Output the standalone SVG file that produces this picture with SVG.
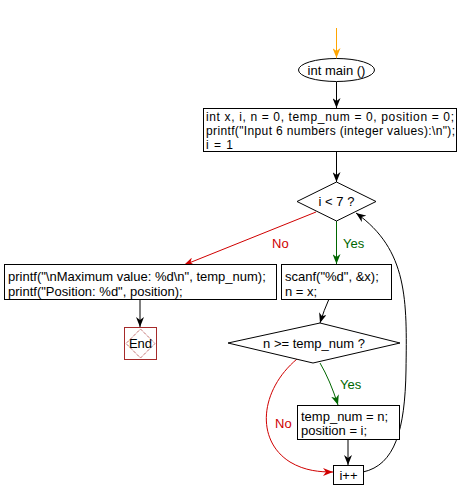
<svg xmlns="http://www.w3.org/2000/svg" width="470" height="500" viewBox="0 0 470 500">
<style>
text{font-family:"Liberation Sans",Arial,sans-serif;font-size:13px;fill:#000}
.s{font-size:12px}
.box{fill:#fff;stroke:#000;stroke-width:1}
.c{fill:none;stroke:#000;stroke-width:1}
.r{stroke:#d00000}
.g{stroke:#006600}
.o{stroke:#ffa500}
.lr{fill:#d00000}
.lg{fill:#006600}
</style>
<defs>
<marker id="ab" viewBox="0 0 10 8" refX="10" refY="4" markerWidth="10" markerHeight="8" markerUnits="userSpaceOnUse" orient="auto"><path d="M0,0 L10,4 L0,8 L3,4 z" fill="#000"/></marker>
<marker id="ar" viewBox="0 0 10 8" refX="10" refY="4" markerWidth="10" markerHeight="8" markerUnits="userSpaceOnUse" orient="auto"><path d="M0,0 L10,4 L0,8 L3,4 z" fill="#d00000"/></marker>
<marker id="ag" viewBox="0 0 10 8" refX="10" refY="4" markerWidth="10" markerHeight="8" markerUnits="userSpaceOnUse" orient="auto"><path d="M0,0 L10,4 L0,8 L3,4 z" fill="#006600"/></marker>
<marker id="ao" viewBox="0 0 10 8" refX="10" refY="4" markerWidth="10" markerHeight="8" markerUnits="userSpaceOnUse" orient="auto"><path d="M0,0 L10,4 L0,8 L3,4 z" fill="#ffa500"/></marker>
</defs>
<g id="connectors">
<path class="c o" d="M336.5,28 L336.5,58" marker-end="url(#ao)"/>
<path class="c" d="M336.5,82 L336.5,108" marker-end="url(#ab)"/>
<path class="c" d="M336.5,151 L336.5,182" marker-end="url(#ab)"/>
<path class="c g" d="M336.5,221 L336.5,264" marker-end="url(#ag)"/>
<path class="c r" d="M316,212 L184,265" marker-end="url(#ar)"/>
<path class="c" d="M140,299 L140,327" marker-end="url(#ab)"/>
<path class="c" d="M329,299 Q324,310 320,323" marker-end="url(#ab)"/>
<path class="c g" d="M320,363 Q330,380 338,405" marker-end="url(#ag)"/>
<path class="c" d="M348,439 L348,465" marker-end="url(#ab)"/>
<path class="c r" d="M297,359 C260,390 255,440 290,462 C305,471 320,472 333,472" marker-end="url(#ar)"/>
<path class="c" d="M363,472 C395,465 405,430 406,370 C407,300 408,250 356,213" marker-end="url(#ab)"/>
<text x="343" y="248" class="lg">Yes</text>
<text x="272" y="248" class="lr">No</text>
<text x="340" y="389" class="lg">Yes</text>
<text x="275" y="428" class="lr">No</text>
</g>
<g id="start">
<ellipse cx="336.5" cy="70" rx="38" ry="11.5" class="box"/>
<text x="336.5" y="74.5" text-anchor="middle">int main ()</text>
</g>
<g id="init">
<rect x="203.5" y="108.5" width="253" height="43" class="box"/>
<text class="s" x="206" y="120.5" textLength="248" lengthAdjust="spacing">int x, i, n = 0, temp_num = 0, position = 0;</text>
<text class="s" x="206" y="134.5" textLength="249" lengthAdjust="spacing">printf("Input 6 numbers (integer values):\n");</text>
<text class="s" x="206" y="148.5" textLength="27" lengthAdjust="spacing">i = 1</text>
</g>
<g id="cond1">
<path d="M336.5,182 L376,201.5 L336.5,221 L297,201.5 z" class="box"/>
<text x="336.5" y="206" text-anchor="middle">i &lt; 7 ?</text>
</g>
<g id="print">
<rect x="4.5" y="264.5" width="272" height="35" class="box"/>
<text x="8" y="281">printf("\nMaximum value: %d\n", temp_num);</text>
<text x="8" y="296">printf("Position: %d", position);</text>
</g>
<g id="scan">
<rect x="281.5" y="264.5" width="110" height="35" class="box"/>
<text x="285" y="281">scanf("%d", &amp;x);</text>
<text x="285" y="296">n = x;</text>
</g>
<g id="end">
<rect x="124.5" y="327.5" width="32" height="32" fill="#fff" stroke="#a52a2a" stroke-width="1"/>
<path d="M140.5,329 L155,343.5 L140.5,358 L126,343.5 z" fill="none" stroke="#a52a2a" stroke-width="1" stroke-dasharray="1,1"/>
<text x="140.5" y="348" text-anchor="middle">End</text>
</g>
<g id="cond2">
<path d="M320,323 L400,343 L313,363 L228,343 z" class="box"/>
<text x="314" y="347.5" text-anchor="middle">n &gt;= temp_num ?</text>
</g>
<g id="update">
<rect x="297.5" y="405.5" width="102" height="34" class="box"/>
<text x="301" y="421">temp_num = n;</text>
<text x="301" y="435">position = i;</text>
</g>
<g id="inc">
<rect x="333.5" y="465.5" width="30" height="19" class="box"/>
<text x="348.5" y="480" text-anchor="middle">i++</text>
</g>
</svg>
